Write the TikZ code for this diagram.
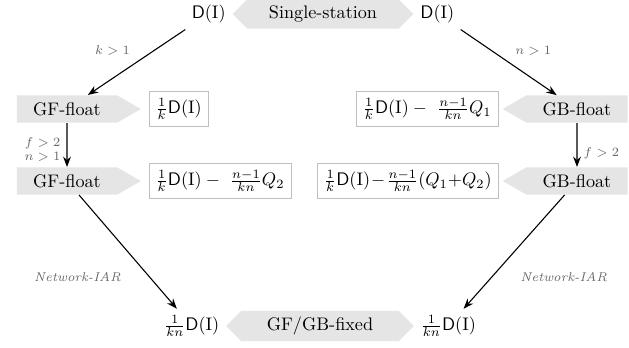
\documentclass[tikz,border=0pt]{standalone}
\usetikzlibrary{arrows.meta,positioning,shapes.symbols}
\newcommand{\DI}{\mathsf{D}(\mathrm{I})}

\begin{document}
\begin{tikzpicture}[
  x=0.55pt, y=-0.55pt, node distance=2pt,
  tag/.style={signal, fill=gray!20, minimum height=15pt, inner xsep=9pt,
              signal pointer angle=60},
  hex/.style={signal, signal to=west and east, fill=gray!20,
              minimum height=16pt, inner xsep=12pt},
  val/.style={draw=gray!50, fill=white, inner sep=3.5pt, minimum height=17pt},
  cond/.style={font=\scriptsize, text=black!60},
  arr/.style={semithick, -{Stealth[length=2mm]}}
]
  \useasboundingbox (0,0) rectangle (629,347);

  % top
  \node[hex] (ss) at (323,14) {Single-station};
  \node[left=0pt of ss] (dl) {$\DI$};
  \node[right=0pt of ss] (dr) {$\DI$};

  % first float row
  \node[tag, signal to=east] (gf1) at (67,109) {GF-float};
  \node[val, right=4pt of gf1] (v1) {$\frac{1}{k}\DI$};
  \node[tag, signal to=west] (gb1) at (577,109) {GB-float};
  \node[val, left=2pt of gb1] (v2) {$\frac{1}{k}\DI - \ \frac{n-1}{kn}Q_1$};

  % second float row
  \node[tag, signal to=east] (gf2) at (67,181) {GF-float};
  \node[val, right=4pt of gf2] (v3) {$\frac{1}{k}\DI - \ \frac{n-1}{kn}Q_2$};
  \node[tag, signal to=west] (gb2) at (577,181) {GB-float};
  \node[val, left=2pt of gb2] (v4) {$\frac{1}{k}\DI\mkern1mu{-}\mkern1mu\frac{n-1}{kn}(Q_1{+}Q_2)$};

  % bottom
  \node[hex, inner xsep=14pt] (fx) at (320,326) {GF/GB-fixed};
  \node[left=0pt of fx] (bl) {$\frac{1}{kn}\DI$};
  \node[right=0pt of fx] (br) {$\frac{1}{kn}\DI$};

  \draw[arr] (dl.south west) -- node[cond, above left]{$k>1$} (gf1);
  \draw[arr] (dr.south east) -- node[cond, above right]{$n>1$} (gb1);
  \draw[arr] (gf1) -- node[cond, left, align=right, pos=0.6]{$f>2$\\$n>1$} (gf2);
  \draw[arr] (gb1) -- node[cond, right, pos=0.7]{$f>2$} (gb2);
  \draw[arr] (gf2) -- node[cond, left, pos=0.72, xshift=-12pt]{\textit{Network-IAR}} (bl);
  \draw[arr] (gb2) -- node[cond, right, pos=0.72, xshift=12pt]{\textit{Network-IAR}} (br);
\end{tikzpicture}
\end{document}
